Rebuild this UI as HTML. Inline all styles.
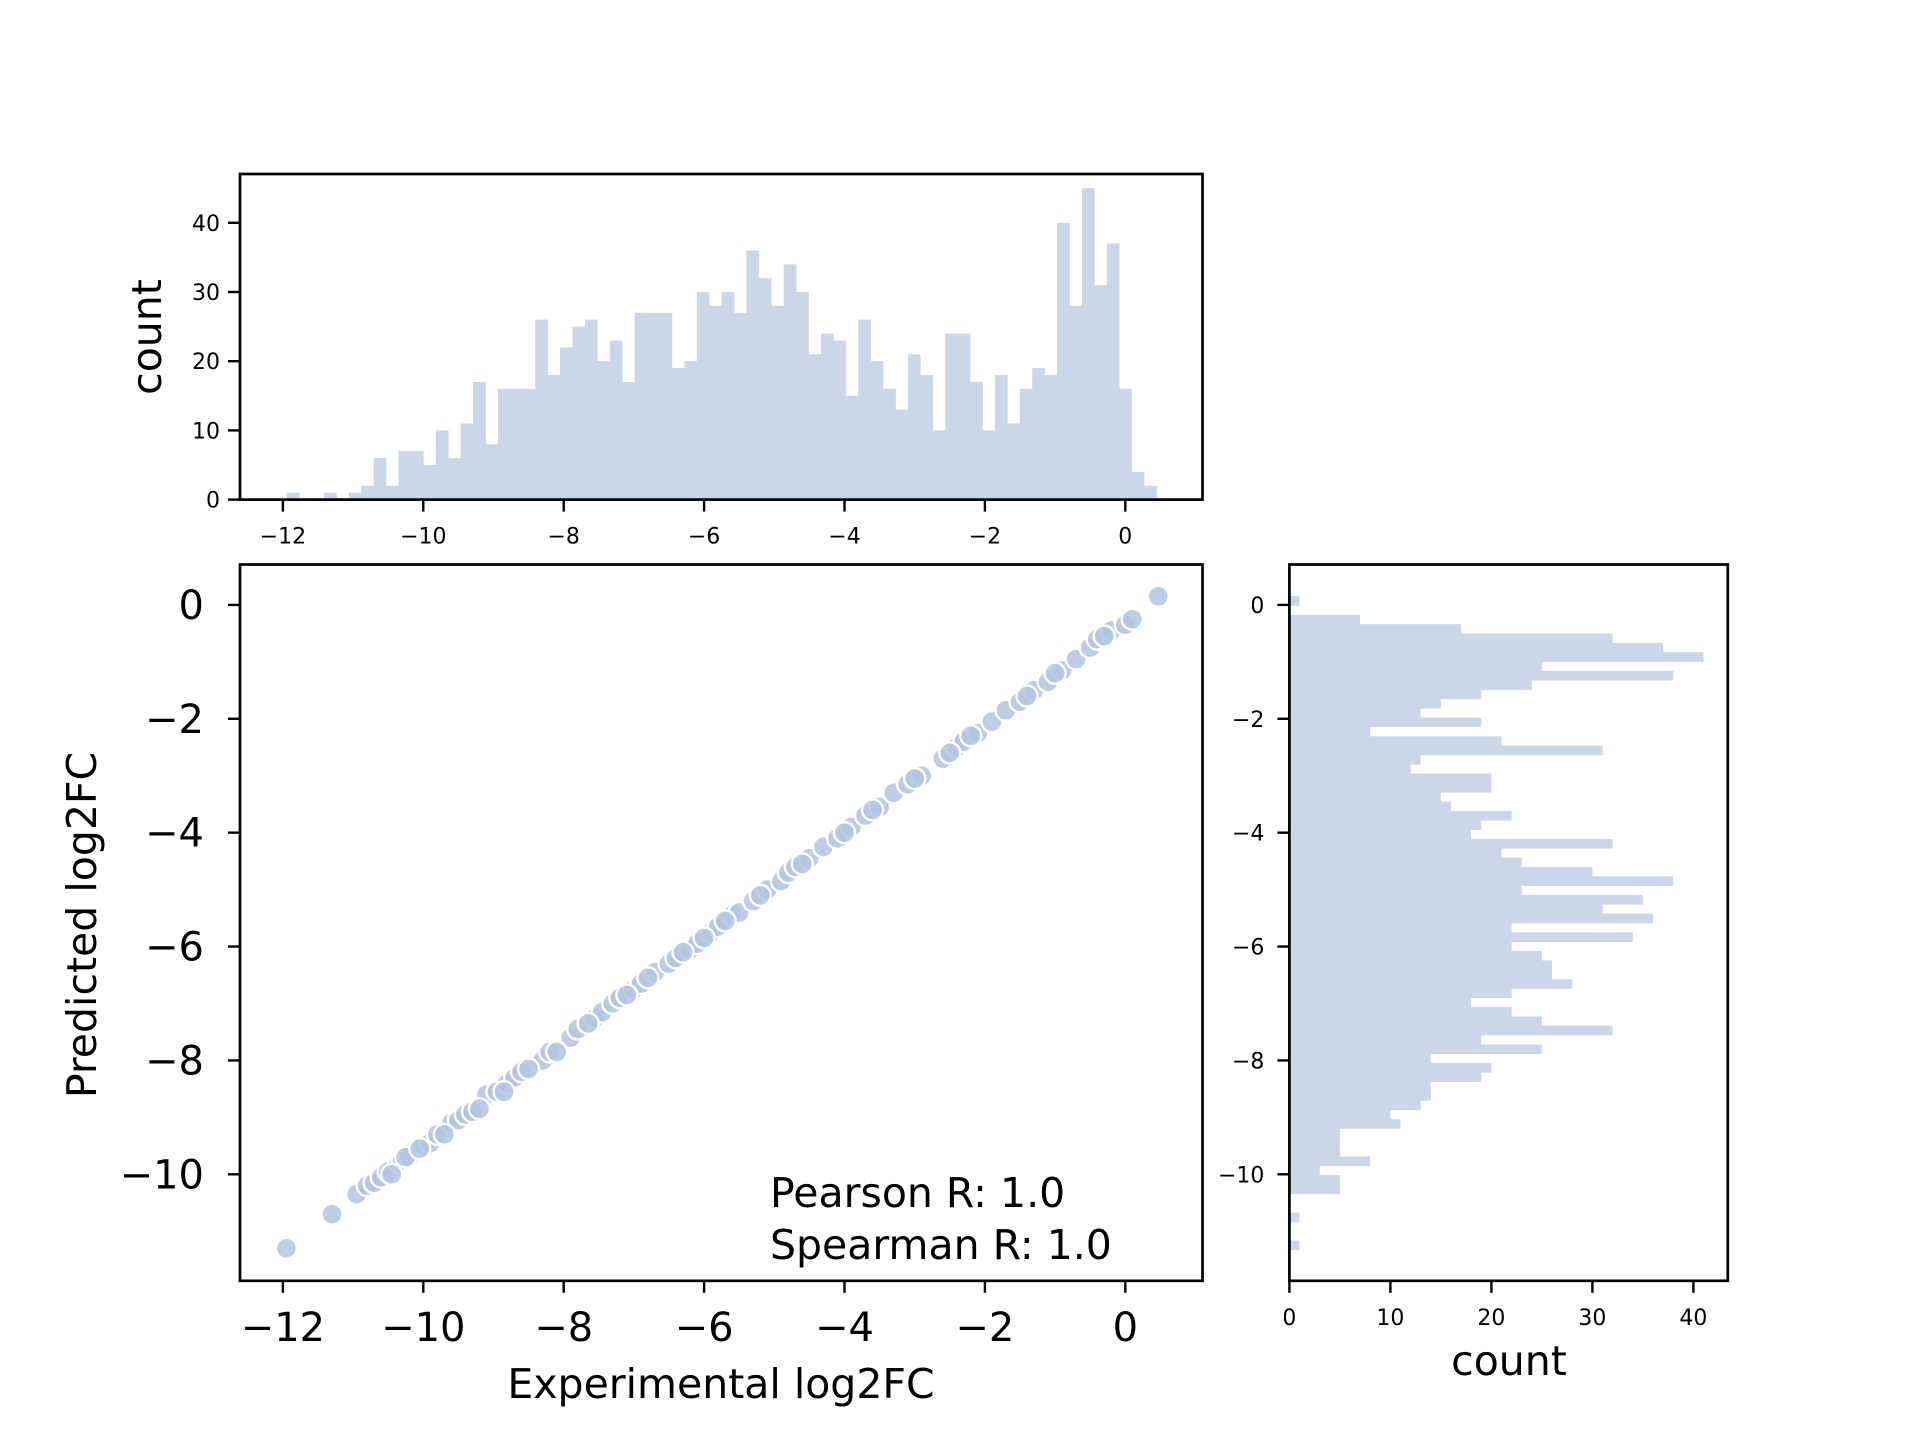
<!DOCTYPE html>
<html><head><meta charset="utf-8"><style>
html,body{margin:0;padding:0;background:#fff;}
svg{display:block;font-family:"DejaVu Sans","Liberation Sans",sans-serif;}
</style></head><body>
<svg id="fig" width="1920" height="1440" viewBox="0 0 1920 1440" xmlns="http://www.w3.org/2000/svg">
<g id="topHist"></g>
<g id="scatter"></g>
<g id="rightHist"></g>
<g id="labels">
<text x="161" y="337" font-size="41" text-anchor="middle" transform="rotate(-90 161 337)">count</text>
<text x="96" y="925" font-size="41" text-anchor="middle" transform="rotate(-90 96 925)">Predicted log2FC</text>
<text x="721" y="1398" font-size="41" text-anchor="middle">Experimental log2FC</text>
<text x="1509" y="1375" font-size="41" text-anchor="middle">count</text>
<text x="770" y="1207" font-size="41">Pearson R: 1.0</text>
<text x="770" y="1259" font-size="41">Spearman R: 1.0</text>
</g>
</svg>
<script>
// Top histogram (experimental log2FC)
const topBinStart = -11.946;
const topBinWidth = 0.177;
const topCounts = [1,0,0,1,0,1,2,6,2,7,7,5,10,6,11,17,8,16,16,16,26,18,22,25,26,20,23,17,27,27,27,19,20,30,28,30,27,36,32,28,34,30,21,24,23,15,26,20,16,13,21,18,10,24,24,17,10,18,11,16,19,18,40,28,45,31,37,16,4,2];
// Right histogram (predicted log2FC)
const rightBinTop = 0.153;
const rightBinWidth = 0.164;
const rightCounts = [1,0,7,17,32,37,41,25,38,24,19,15,13,19,8,21,31,13,12,20,20,15,16,22,19,18,32,21,23,30,38,23,35,31,36,22,34,22,25,26,26,28,22,18,22,25,32,19,25,14,20,19,14,14,13,10,11,5,5,5,8,3,5,5,0,0,1,0,0,1];
// Scatter points
const expX = [-11.95,-11.3,-10.95,-10.8,-10.7,-10.6,-10.5,-10.35,-10.3,-10.2,-10.0,-9.9,-9.8,-9.6,-9.5,-9.4,-9.3,-9.1,-8.95,-8.8,-8.7,-8.6,-8.3,-8.2,-7.9,-7.8,-7.55,-7.45,-7.3,-7.2,-7.0,-6.9,-6.7,-6.5,-6.4,-6.2,-6.1,-5.9,-5.8,-5.6,-5.5,-5.3,-5.1,-4.9,-4.8,-4.7,-4.5,-4.3,-4.1,-3.9,-3.7,-3.5,-3.3,-3.1,-2.9,-2.6,-2.4,-2.3,-2.1,-1.9,-1.7,-1.5,-1.3,-1.1,-0.9,-0.7,-0.5,-0.4,-0.2,0.0,0.1,0.47,
  -10.45,-10.25,-10.05,-9.7,-9.2,-8.85,-8.5,-8.1,-7.65,-7.1,-6.8,-6.3,-6.0,-5.7,-5.2,-4.6,-4.0,-3.6,-3.0,-2.5,-2.2,-1.4,-1.0,-0.3];
const predY = [-11.3,-10.7,-10.35,-10.2,-10.15,-10.05,-9.95,-9.8,-9.75,-9.7,-9.5,-9.45,-9.3,-9.1,-9.05,-8.95,-8.9,-8.6,-8.55,-8.4,-8.3,-8.2,-8.0,-7.85,-7.6,-7.45,-7.25,-7.15,-7.0,-6.9,-6.75,-6.65,-6.45,-6.3,-6.2,-6.05,-5.95,-5.75,-5.65,-5.45,-5.4,-5.2,-5.0,-4.85,-4.7,-4.6,-4.45,-4.25,-4.1,-3.9,-3.7,-3.55,-3.3,-3.15,-3.0,-2.7,-2.5,-2.4,-2.25,-2.05,-1.85,-1.7,-1.5,-1.35,-1.15,-0.95,-0.75,-0.6,-0.45,-0.35,-0.25,0.15,
  -10.0,-9.7,-9.55,-9.3,-8.85,-8.55,-8.15,-7.85,-7.35,-6.85,-6.55,-6.1,-5.85,-5.55,-5.1,-4.55,-4.0,-3.6,-3.05,-2.6,-2.3,-1.6,-1.2,-0.55];
const xTicks = [-12,-10,-8,-6,-4,-2,0];
const yTicks = [0,-2,-4,-6,-8,-10];
const topCountTicks = [0,10,20,30,40];
const rightCountTicks = [0,10,20,30,40];

const NS = "http://www.w3.org/2000/svg";
const BAR = "#cbd6e8", PT = "#b3c4e0";
const X = v => 1125.3 + v * 70.2;
const Y = v => 604.9 - v * 56.94;
const HC = c => 499.6 - c * 6.92;
const RC = c => 1289.4 + c * 10.1;
const TOP = {l:240, r:1202.5, t:174, b:499.6};
const MAIN = {l:240, r:1202.5, t:564.5, b:1280.8};
const RIGHT = {l:1289.4, r:1727.8, t:564.5, b:1280.8};

function mk(tag, attrs, parent){
  const el = document.createElementNS(NS, tag);
  for (const k in attrs) el.setAttribute(k, attrs[k]);
  parent.appendChild(el);
  return el;
}
function fmt(v){ return v < 0 ? "\u2212" + Math.abs(v) : String(v); }

const gTop = document.getElementById("topHist");
const gSc = document.getElementById("scatter");
const gR = document.getElementById("rightHist");

topCounts.forEach((c, i) => {
  if (c <= 0) return;
  const x0 = X(topBinStart + i * topBinWidth), x1 = X(topBinStart + (i + 1) * topBinWidth);
  const r = mk("rect", {x:x0, y:HC(c), width:x1 - x0 + 0.3, height:HC(0) - HC(c), fill:BAR}, gTop);
  
  
});
rightCounts.forEach((c, i) => {
  if (c <= 0) return;
  const y0 = Y(rightBinTop - i * rightBinWidth), y1 = Y(rightBinTop - (i + 1) * rightBinWidth);
  const r = mk("rect", {x:RC(0), y:y0, width:RC(c) - RC(0), height:y1 - y0 + 0.3, fill:BAR}, gR);
  
  
});
const n = Math.min(expX.length, predY.length);
for (let i = 0; i < n; i++) {
  const c = mk("circle", {cx:X(expX[i]), cy:Y(predY[i]), r:10.5, fill:PT, "fill-opacity":0.85, stroke:"#ffffff", "stroke-width":2.4}, gSc);
  
  
}

function frame(box, g, name){
  const r = mk("rect", {x:box.l, y:box.t, width:box.r - box.l, height:box.b - box.t, fill:"none", stroke:"#000", "stroke-width":2.7}, g);
  
  
}
frame(TOP, gTop, 'top-hist-frame');
frame(MAIN, gSc, 'scatter-frame');
frame(RIGHT, gR, 'right-hist-frame');

xTicks.forEach(v => {
  mk("line", {x1:X(v), x2:X(v), y1:TOP.b, y2:TOP.b + 12, stroke:"#000", "stroke-width":2.4}, gTop);
  const t = mk("text", {x:X(v), y:TOP.b + 44, "font-size":22, "text-anchor":"middle"}, gTop);
  t.textContent = fmt(v);
  
  
});
topCountTicks.forEach(v => {
  mk("line", {x1:TOP.l - 12, x2:TOP.l, y1:HC(v), y2:HC(v), stroke:"#000", "stroke-width":2.4}, gTop);
  const t = mk("text", {x:TOP.l - 20, y:HC(v) + 8, "font-size":22, "text-anchor":"end"}, gTop);
  t.textContent = fmt(v);
  
  
});
xTicks.forEach(v => {
  mk("line", {x1:X(v), x2:X(v), y1:MAIN.b, y2:MAIN.b + 12, stroke:"#000", "stroke-width":2.4}, gSc);
  const t = mk("text", {x:X(v), y:MAIN.b + 60, "font-size":40, "text-anchor":"middle"}, gSc);
  t.textContent = fmt(v);
  
  
});
yTicks.forEach(v => {
  mk("line", {x1:MAIN.l - 12, x2:MAIN.l, y1:Y(v), y2:Y(v), stroke:"#000", "stroke-width":2.4}, gSc);
  const t = mk("text", {x:MAIN.l - 36, y:Y(v) + 14, "font-size":40, "text-anchor":"end"}, gSc);
  t.textContent = fmt(v);
  
  
});
yTicks.forEach(v => {
  mk("line", {x1:RIGHT.l - 12, x2:RIGHT.l, y1:Y(v), y2:Y(v), stroke:"#000", "stroke-width":2.4}, gR);
  const t = mk("text", {x:RIGHT.l - 25, y:Y(v) + 8, "font-size":22, "text-anchor":"end"}, gR);
  t.textContent = fmt(v);
  
  
});
rightCountTicks.forEach(v => {
  mk("line", {x1:RC(v), x2:RC(v), y1:RIGHT.b, y2:RIGHT.b + 12, stroke:"#000", "stroke-width":2.4}, gR);
  const t = mk("text", {x:RC(v), y:RIGHT.b + 44, "font-size":22, "text-anchor":"middle"}, gR);
  t.textContent = fmt(v);
  
  
});
</script>
</body></html>
